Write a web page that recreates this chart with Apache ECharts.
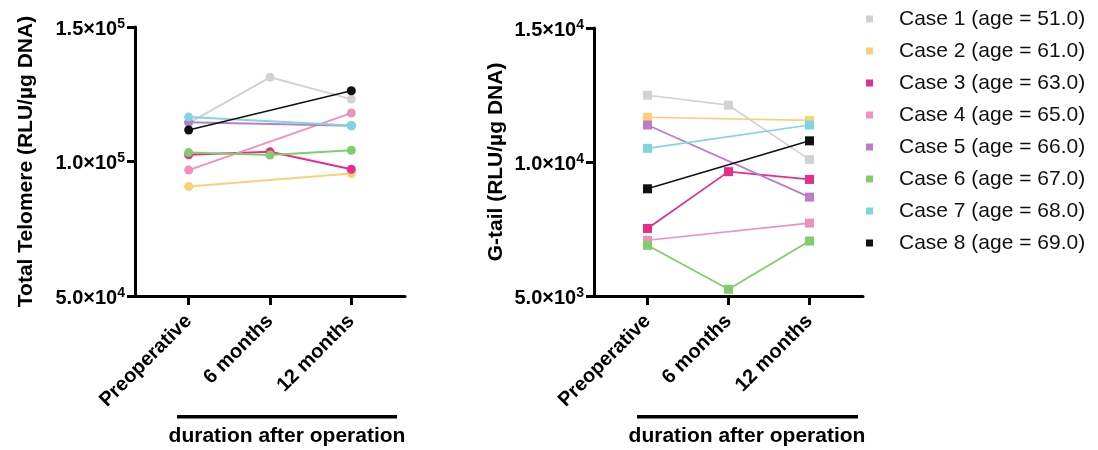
<!DOCTYPE html>
<html>
<head>
<meta charset="utf-8">
<script src="https://cdn.jsdelivr.net/npm/echarts@6/dist/echarts.min.js"></script>
<style>
  html, body { margin: 0; padding: 0; background: #fff; }
  #chart { width: 1098px; height: 450px; }
</style>
</head>
<body>
<div id="chart"></div>
<script>
var categories = ['Preoperative', '6 months', '12 months'];
var caseNames = ['Case 1 (age = 51.0)', 'Case 2 (age = 61.0)', 'Case 3 (age = 63.0)', 'Case 4 (age = 65.0)',
                 'Case 5 (age = 66.0)', 'Case 6 (age = 67.0)', 'Case 7 (age = 68.0)', 'Case 8 (age = 69.0)'];
var caseColors = ['#d2d2d2', '#fccf78', '#e72c8a', '#ef90c1', '#bb7dc6', '#80cd6c', '#80d4e2', '#111111'];

// total telomere, one array per case (null = not measured)
var telomere1 = [114300, 131300, 123200];
var telomere2 = [90700, null, 95500];
var telomere3 = [102500, 103600, 97100];
var telomere4 = [96800, null, 118000];
var telomere5 = [114600, null, 113300];
var telomere6 = [103300, 102400, 104200];
var telomere7 = [116500, null, 113400];
var telomere8 = [111700, null, 126300];

// G-tail
var gtail1 = [12490, 12120, 10090];
var gtail2 = [11670, null, 11550];
var gtail3 = [7520, 9640, 9350];
var gtail4 = [7080, null, 7720];
var gtail5 = [11380, null, 8690];
var gtail6 = [6890, 5250, 7050];
var gtail7 = [10510, null, 11380];
var gtail8 = [9000, null, 10790];

var telomereData = [telomere1, telomere2, telomere3, telomere4, telomere5, telomere6, telomere7, telomere8];
var gtailData = [gtail1, gtail2, gtail3, gtail4, gtail5, gtail6, gtail7, gtail8];

var FONT = '"Liberation Sans", Arial, Helvetica, sans-serif';

function sciLabel(v) {
    var e = Math.floor(Math.log10(v) + 1e-9);
    var m = (v / Math.pow(10, e)).toFixed(1);
    return '{b|' + m + '×10}{s|' + e + '}';
}

function toPoints(arr) {
    return arr.map(function (v, i) { return [i, v]; });
}

function xAxisOf(idx) {
    return {
        type: 'value', gridIndex: idx, min: -0.66, max: 2.66,
        splitLine: { show: false },
        axisLine: { onZero: false, lineStyle: { color: '#000', width: 3 } },
        axisTick: { customValues: [0, 1, 2], length: 9, lineStyle: { color: '#000', width: 3 } },
        axisLabel: {
            customValues: [0, 1, 2], rotate: 45, margin: 22,
            fontFamily: FONT, fontWeight: 'bold', fontSize: 20, color: '#000',
            formatter: function (v) { return categories[Math.round(v)]; }
        }
    };
}

function yAxisOf(idx, min, max, step, name, gap) {
    return {
        type: 'value', gridIndex: idx, min: min, max: max, interval: step,
        name: name, nameLocation: 'middle', nameGap: gap,
        nameTextStyle: { fontFamily: FONT, fontWeight: 'bold', fontSize: 21, color: '#000' },
        splitLine: { show: false },
        axisLine: { show: true, onZero: false, lineStyle: { color: '#000', width: 3 } },
        axisTick: { show: true, inside: false, length: 8, lineStyle: { color: '#000', width: 3 } },
        axisLabel: {
            margin: 10, formatter: sciLabel, verticalAlign: 'middle', padding: [4, 0, 0, 0],
            rich: {
                b: { fontFamily: FONT, fontWeight: 'bold', fontSize: 20, color: '#000', lineHeight: 24 },
                s: { fontFamily: FONT, fontWeight: 'bold', fontSize: 14, color: '#000', lineHeight: 24, verticalAlign: 'top' }
            }
        }
    };
}

var series = [];
caseNames.forEach(function (name, i) {
    series.push({
        name: name, type: 'line', xAxisIndex: 0, yAxisIndex: 0,
        data: toPoints(telomereData[i]), connectNulls: true,
        symbol: 'circle', symbolSize: 9, color: caseColors[i],
        lineStyle: { width: i === 7 ? 1.5 : 2 }, animation: false
    });
    series.push({
        name: name, type: 'line', xAxisIndex: 1, yAxisIndex: 1,
        data: toPoints(gtailData[i]), connectNulls: true,
        symbol: 'rect', symbolSize: 9, color: caseColors[i],
        lineStyle: { width: i === 7 ? 1.5 : 1.7 }, animation: false
    });
});

var chart = echarts.init(document.getElementById('chart'));
chart.setOption({
    animation: false,
    grid: [
        { left: 135, top: 27, width: 270, height: 269, outerBoundsMode: 'none', containLabel: false },
        { left: 594, top: 28, width: 269, height: 268, outerBoundsMode: 'none', containLabel: false }
    ],
    xAxis: [xAxisOf(0), xAxisOf(1)],
    yAxis: [
        yAxisOf(0, 50000, 150000, 50000, 'Total Telomere (RLU/µg DNA)', 98),
        yAxisOf(1, 5000, 15000, 5000, 'G-tail (RLU/µg DNA)', 87)
    ],
    legend: {
        orient: 'vertical', left: 861, top: 3,
        icon: 'rect', itemWidth: 7, itemHeight: 7, itemGap: 10,
        data: caseNames,
        textStyle: { fontFamily: FONT, fontSize: 21, color: '#111', lineHeight: 22, padding: [0, 0, 0, 21] }
    },
    graphic: [
        { type: 'rect', shape: { x: 177, y: 415, width: 220, height: 3.5 }, style: { fill: '#000' } },
        { type: 'text', x: 287, y: 436, style: { text: 'duration after operation', font: 'bold 21px ' + FONT, fill: '#000', align: 'center', verticalAlign: 'middle' } },
        { type: 'rect', shape: { x: 637, y: 415, width: 221, height: 3.5 }, style: { fill: '#000' } },
        { type: 'text', x: 747, y: 436, style: { text: 'duration after operation', font: 'bold 21px ' + FONT, fill: '#000', align: 'center', verticalAlign: 'middle' } }
    ],
    series: series
});
</script>
</body>
</html>
